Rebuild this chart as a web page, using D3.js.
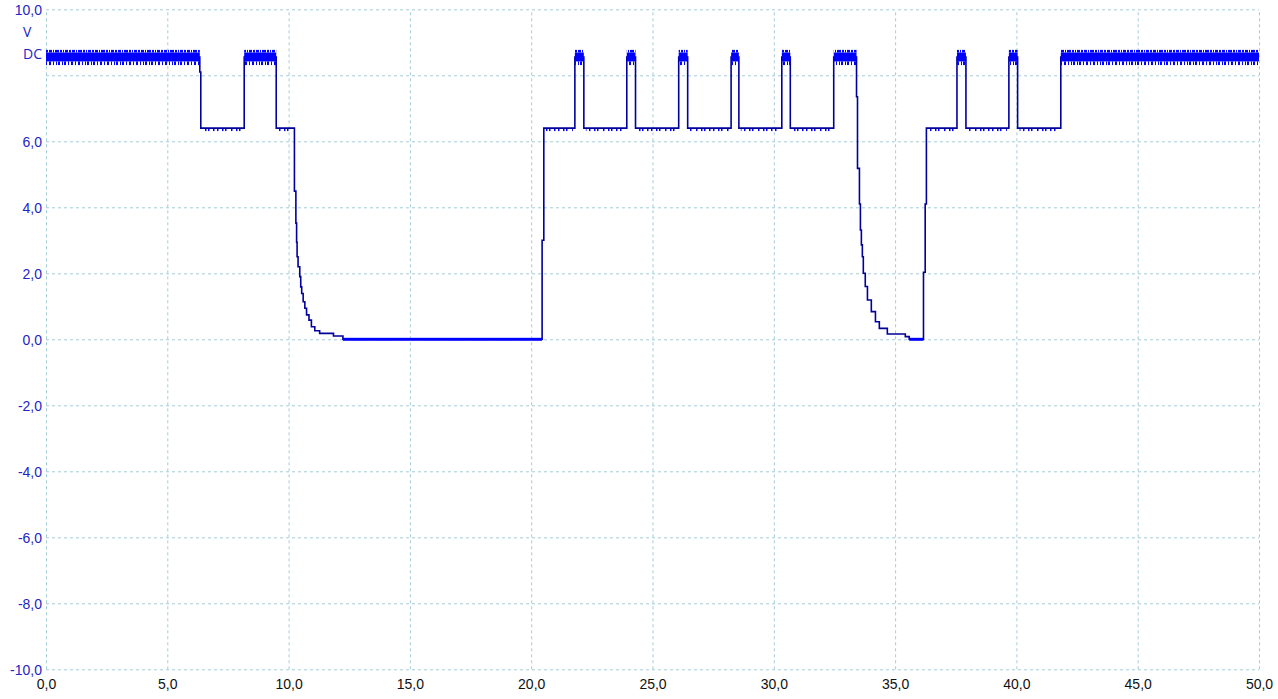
<!DOCTYPE html>
<html>
<head>
<meta charset="utf-8">
<script src="https://cdn.jsdelivr.net/npm/d3@7"></script>
<style>
  body { margin: 0; background: #fff; }
  svg { display: block; font-family: "Open Sans", "Noto Sans", sans-serif; }
  .grid line { stroke: #a3ccd6; stroke-dasharray: 3,3; stroke-width: 1; }
  .grid .domain { display: none; }
  .yaxis text { fill: #2323c8; font-size: 14px; }
  .xaxis text { fill: #111; font-size: 14px; }
  .trace { fill: none; stroke: #00009c; stroke-width: 1.6; }
</style>
</head>
<body>
<div id="chart"></div>
<script>
"use strict"
// scope trace, step points: time (s) and volts after each step
var traceTime = [0, 6.34, 6.38, 8.17, 9.49,
  10.24, 10.30, 10.33, 10.35, 10.39, 10.46, 10.50, 10.54, 10.60, 10.67, 10.74, 10.84, 10.94, 11.08, 11.28, 11.85, 12.24,
  20.45, 20.52, 21.80, 22.17, 23.94, 24.30, 26.08, 26.45, 28.24, 28.56, 30.33, 30.68, 32.47,
  33.41, 33.45, 33.53, 33.57, 33.61, 33.65, 33.69, 33.77, 33.86, 34.02, 34.19, 34.35, 34.68, 35.42, 35.58,
  36.17, 36.24, 36.29, 37.55, 37.92, 39.69, 40.05, 41.83, 50];
var traceVolt = [8.55, 8.10, 6.40, 8.55, 6.40,
  4.49, 3.52, 2.94, 2.50, 2.20, 1.90, 1.59, 1.39, 1.14, 0.94, 0.74, 0.58, 0.38, 0.26, 0.18, 0.10, 0.00,
  3.00, 6.40, 8.55, 6.40, 8.55, 6.40, 8.55, 6.40, 8.55, 6.40, 8.55, 6.40, 8.55,
  7.35, 5.18, 4.10, 3.31, 2.86, 2.50, 2.00, 1.60, 1.19, 0.84, 0.53, 0.33, 0.16, 0.08, 0.00,
  2.03, 4.10, 6.40, 8.55, 6.40, 8.55, 6.40, 8.55, 8.55];

// noise envelopes (V)
var highCore = [8.42, 8.69];
var highSpikes = [8.31, 8.77];
var zeroBand = [-0.045, 0.045];
var lowTicks = [6.31, 6.40];

var xTicks = [0, 5, 10, 15, 20, 25, 30, 35, 40, 45, 50];
var yTicks = [-10, -8, -6, -4, -2, 0, 2, 4, 6, 8, 10];
var yHidden = [8]; // the unit label sits there

var width = 1278, height = 699;
var x = d3.scaleLinear().domain([0, 50]).range([46, 1259]);
var y = d3.scaleLinear().domain([-10, 10]).range([669.3, 9.3]);

var locale = d3.formatLocale({decimal: ",", thousands: ".", grouping: [3], currency: ["", ""], minus: "-"});
var fmt = locale.format(".1f");

var svg = d3.select("#chart").append("svg").attr("width", width).attr("height", height);
var defs = svg.append("defs");

// comb patterns to look like the sampled noise spikes
function comb(id, w, stripes) {
  var p = defs.append("pattern").attr("id", id)
    .attr("patternUnits", "userSpaceOnUse").attr("width", w).attr("height", 40);
  stripes.forEach(function(s) {
    p.append("rect").attr("x", s[0]).attr("y", 0).attr("width", s[1]).attr("height", 40).attr("fill", "#0000ff");
  });
}
comb("combTop", 23, [[0, 2], [3, 3], [7, 1], [9, 4], [14, 2], [17, 1], [19, 3]]);
comb("combBot", 29, [[0, 2], [4, 1], [6, 2], [10, 1], [13, 2], [17, 1], [20, 2], [24, 1], [27, 1]]);
comb("combLow", 31, [[0, 1.5], [5, 1.5], [8, 1.5], [14, 1.5], [19, 1.5], [22, 1.5], [27, 1.5]]);

svg.append("clipPath").attr("id", "plot").append("rect")
  .attr("x", x(0)).attr("y", y(10) - 2).attr("width", x(50) - x(0)).attr("height", y(-10) - y(10) + 4);

// grid
svg.append("g").attr("class", "grid")
  .attr("transform", "translate(0," + y(-10) + ")")
  .call(d3.axisBottom(x).tickValues(xTicks).tickSize(-(y(-10) - y(10))).tickFormat(""));
svg.append("g").attr("class", "grid")
  .attr("transform", "translate(" + x(0) + ",0)")
  .call(d3.axisLeft(y).tickValues(yTicks).tickSize(-(x(50) - x(0))).tickFormat(""));

// axis labels
var yAxis = svg.append("g").attr("class", "yaxis")
  .attr("transform", "translate(" + x(0) + ",0)")
  .call(d3.axisLeft(y).tickValues(yTicks).tickSize(0).tickPadding(4)
    .tickFormat(function(d) { return yHidden.indexOf(d) >= 0 ? "" : fmt(d); }));
yAxis.select(".domain").remove();
yAxis.selectAll("text").attr("dy", "0.36em");

var xAxis = svg.append("g").attr("class", "xaxis")
  .attr("transform", "translate(0," + y(-10) + ")")
  .call(d3.axisBottom(x).tickValues(xTicks).tickSize(0).tickPadding(10).tickFormat(fmt));
xAxis.select(".domain").remove();

svg.append("text").attr("x", 23).attr("y", 37).attr("fill", "#2323c8").style("font-size", "14px").text("V");
svg.append("text").attr("x", 42).attr("y", 59).attr("text-anchor", "end").attr("fill", "#2323c8").style("font-size", "14px").text("DC");

// spans of constant level from the step trace
var spans = [];
for (var i = 0; i < traceTime.length - 1; i++) {
  spans.push({t0: traceTime[i], t1: traceTime[i + 1], v: traceVolt[i]});
}
var highSpans = spans.filter(function(d) { return d.v >= 8.5; });
var lowSpans = spans.filter(function(d) { return d.v === 6.4; });
var zeroSpans = spans.filter(function(d) { return d.v === 0; });

var plot = svg.append("g").attr("clip-path", "url(#plot)");

plot.selectAll(".lowTicks").data(lowSpans).enter().append("rect")
  .attr("x", function(d) { return x(d.t0) + 2; })
  .attr("width", function(d) { return Math.max(0, x(d.t1) - x(d.t0) - 4); })
  .attr("y", y(lowTicks[1])).attr("height", y(lowTicks[0]) - y(lowTicks[1]))
  .attr("fill", "url(#combLow)");

var line = d3.line().curve(d3.curveStepAfter)
  .x(function(d) { return x(d[0]); }).y(function(d) { return y(d[1]); });
plot.append("path").attr("class", "trace")
  .attr("d", line(traceTime.map(function(t, i) { return [t, traceVolt[i]]; })));

plot.selectAll(".zero").data(zeroSpans).enter().append("rect")
  .attr("x", function(d) { return x(d.t0); })
  .attr("width", function(d) { return x(d.t1) - x(d.t0); })
  .attr("y", y(zeroBand[1])).attr("height", y(zeroBand[0]) - y(zeroBand[1]))
  .attr("fill", "#0000ff");

plot.selectAll(".spikeTop").data(highSpans).enter().append("rect")
  .attr("x", function(d) { return x(d.t0); })
  .attr("width", function(d) { return x(d.t1) - x(d.t0); })
  .attr("y", y(highSpikes[1])).attr("height", y(highCore[1]) - y(highSpikes[1]))
  .attr("fill", "url(#combTop)");
plot.selectAll(".spikeBot").data(highSpans).enter().append("rect")
  .attr("x", function(d) { return x(d.t0); })
  .attr("width", function(d) { return x(d.t1) - x(d.t0); })
  .attr("y", y(highCore[0])).attr("height", y(highSpikes[0]) - y(highCore[0]))
  .attr("fill", "url(#combBot)");
plot.selectAll(".core").data(highSpans).enter().append("rect")
  .attr("x", function(d) { return x(d.t0); })
  .attr("width", function(d) { return x(d.t1) - x(d.t0); })
  .attr("y", y(highCore[1])).attr("height", y(highCore[0]) - y(highCore[1]))
  .attr("fill", "#0000ff");
</script>
</body>
</html>
